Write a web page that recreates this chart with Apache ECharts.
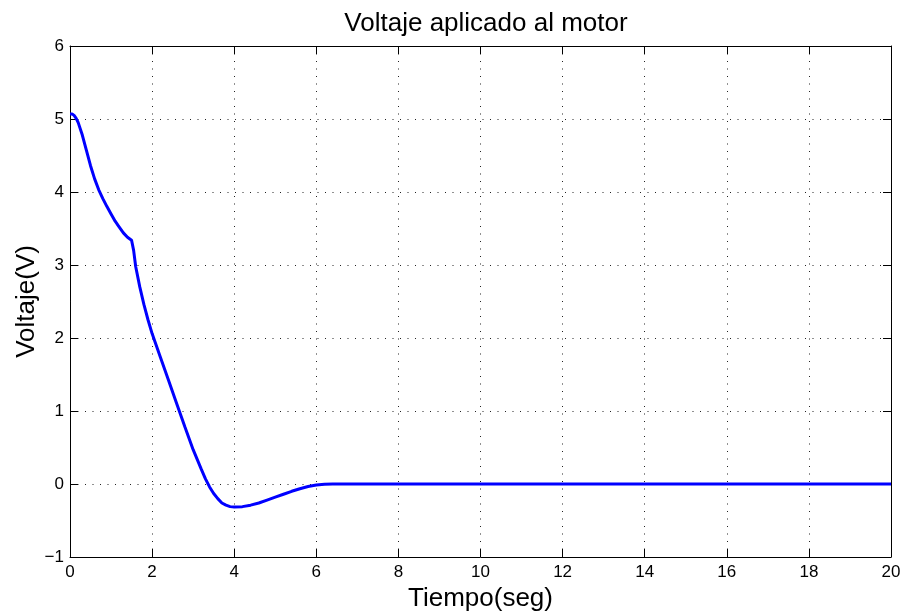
<!DOCTYPE html>
<html>
<head>
<meta charset="utf-8">
<script src="https://cdn.jsdelivr.net/npm/echarts@6/dist/echarts.min.js"></script>
<style>html,body{margin:0;padding:0;background:#fff}#c{width:904px;height:614px}</style>
</head>
<body>
<div id="c"></div>
<script>
var tiempo = [0, 0.05, 0.1, 0.15, 0.2, 0.3, 0.4, 0.5, 0.6, 0.7, 0.8, 0.9, 1.0, 1.1, 1.2, 1.3, 1.4, 1.5, 1.53,
  1.55, 1.6, 1.7, 1.8, 1.9, 2.0, 2.2, 2.4, 2.6, 2.8, 3.0, 3.2, 3.3, 3.4, 3.5, 3.6, 3.7, 3.8, 3.9, 4.0,
  4.2, 4.4, 4.6, 4.8, 5.0, 5.2, 5.4, 5.6, 5.8, 6.0, 6.2, 6.4, 20];
var voltaje = [5.07, 5.07, 5.05, 5.01, 4.95, 4.78, 4.57, 4.36, 4.18, 4.03, 3.91, 3.8, 3.7, 3.6, 3.52, 3.44, 3.38, 3.34, 3.32,
  3.2, 2.98, 2.7, 2.46, 2.25, 2.06, 1.74, 1.42, 1.1, 0.78, 0.47, 0.2, 0.07, -0.04, -0.13, -0.2, -0.26, -0.29, -0.31, -0.315,
  -0.31, -0.29, -0.26, -0.22, -0.18, -0.14, -0.10, -0.065, -0.035, -0.015, -0.004, 0, 0];
var xTicks = {min: 0, max: 20, interval: 2};
var yTicks = {min: -1, max: 6, interval: 1};
var titulo = 'Voltaje aplicado al motor';
var xNombre = 'Tiempo(seg)';
var yNombre = 'Voltaje(V)';

var serie = tiempo.map(function (t, i) { return [t, voltaje[i]]; });
var font = 'Liberation Sans, Arial, Helvetica, sans-serif';
var fmt = function (v) { return String(v).replace('-', '\u2212'); };
var gridLine = {color: '#222', width: 1, type: [1, 6.5]};
var axLine = {show: true, onZero: false, lineStyle: {color: '#000', width: 1}};
var tick = {show: true, inside: true, length: 8, lineStyle: {color: '#000'}};

var chart = echarts.init(document.getElementById('c'), null, {renderer: 'canvas'});
chart.setOption({
  animation: false,
  backgroundColor: '#fff',
  title: {text: titulo, left: 481, top: 6, textAlign: 'center',
    textStyle: {fontFamily: font, fontSize: 26, fontWeight: 'normal', color: '#000'}},
  grid: {left: 70, top: 46, right: 13, bottom: 57, containLabel: false, outerBoundsMode: 'none'},
  xAxis: [{
    type: 'value', min: xTicks.min, max: xTicks.max, interval: xTicks.interval, position: 'bottom',
    name: xNombre, nameLocation: 'middle', nameGap: 29, nameMoveOverlap: false,
    nameTextStyle: {fontFamily: font, fontSize: 26, color: '#000'},
    axisLine: axLine, axisTick: tick,
    axisLabel: {fontFamily: font, fontSize: 17, color: '#000', margin: 7, formatter: fmt},
    splitLine: {show: true, lineStyle: gridLine}
  }, {
    type: 'value', min: xTicks.min, max: xTicks.max, interval: xTicks.interval, position: 'top',
    axisLine: axLine, axisTick: tick, axisLabel: {show: false}, splitLine: {show: false}
  }],
  yAxis: [{
    type: 'value', min: yTicks.min, max: yTicks.max, interval: yTicks.interval, position: 'left',
    name: yNombre, nameLocation: 'middle', nameGap: 30, nameRotate: 90, nameMoveOverlap: false,
    nameTextStyle: {fontFamily: font, fontSize: 26, color: '#000'},
    axisLine: axLine, axisTick: tick,
    axisLabel: {fontFamily: font, fontSize: 17, color: '#000', margin: 6, formatter: fmt},
    splitLine: {show: true, lineStyle: gridLine}
  }, {
    type: 'value', min: yTicks.min, max: yTicks.max, interval: yTicks.interval, position: 'right',
    axisLine: axLine, axisTick: tick, axisLabel: {show: false}, splitLine: {show: false}
  }],
  series: [{
    type: 'line', data: serie, showSymbol: false, smooth: false,
    lineStyle: {color: '#0000ff', width: 3}, itemStyle: {color: '#0000ff'}
  }]
});
</script>
</body>
</html>
